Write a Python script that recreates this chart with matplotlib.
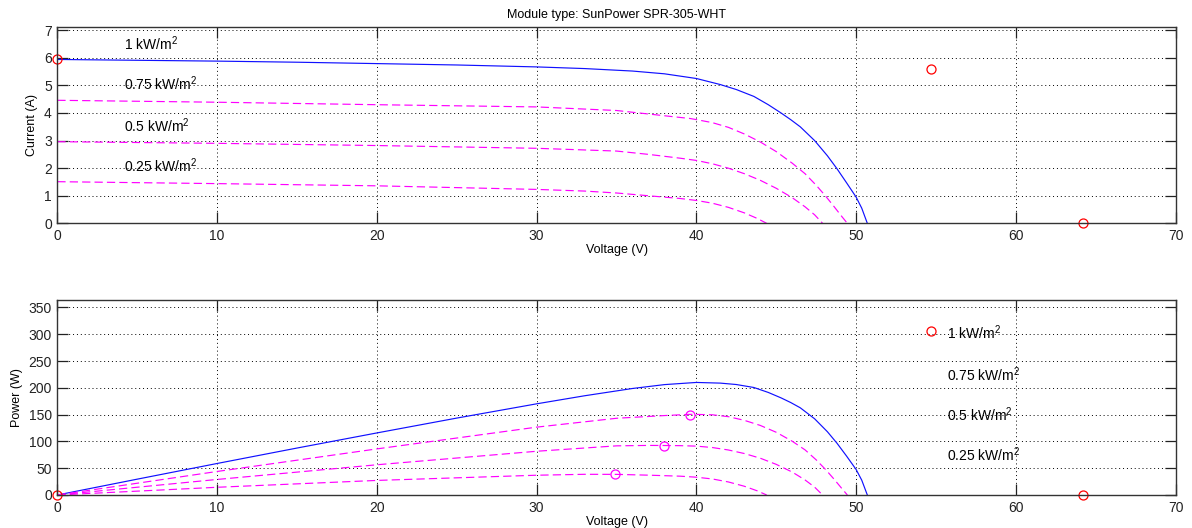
import numpy as np
import matplotlib
matplotlib.use("Agg")
import matplotlib.pyplot as plt

plt.rcParams['font.family'] = ['Liberation Sans', 'DejaVu Sans']
plt.rcParams['mathtext.fontset'] = 'custom'
plt.rcParams['mathtext.rm'] = 'Liberation Sans'
plt.rcParams['mathtext.it'] = 'Liberation Sans:italic'

# ---- data ----
title = "Module type: SunPower SPR-305-WHT"

v_1000 = [0, 5, 10, 15, 20, 25, 30, 33, 36, 38, 40, 41.5, 42.5, 43.6, 44.5, 45.3,
          45.9, 46.5, 47.4, 48.2, 48.8, 49.4, 50.0, 50.35, 50.7]
i_1000 = [5.94, 5.91, 5.88, 5.84, 5.79, 5.74, 5.67, 5.61, 5.52, 5.42, 5.25, 5.03,
          4.85, 4.6, 4.3, 4.0, 3.76, 3.5, 3.0, 2.45, 1.98, 1.47, 0.95, 0.55, 0.0]

v_750 = [0, 10, 20, 30, 35, 38, 39.6, 40, 41.0, 42.0, 43.0, 44.0, 45.0, 46.0,
         46.8, 47.5, 48.1, 48.6, 49.1, 49.45]
i_750 = [4.46, 4.39, 4.30, 4.22, 4.09, 3.9, 3.8, 3.76, 3.65, 3.48, 3.24, 2.95,
         2.6, 2.18, 1.8, 1.38, 0.98, 0.62, 0.25, 0.0]

v_500 = [0, 10, 20, 30, 35, 37, 38, 39, 40, 41, 42, 43, 44, 45, 46, 46.8, 47.4, 47.9]
i_500 = [2.96, 2.90, 2.82, 2.72, 2.62, 2.5, 2.43, 2.36, 2.28, 2.16, 2.0, 1.8,
         1.56, 1.27, 0.93, 0.6, 0.31, 0.0]

v_250 = [0, 10, 20, 30, 33, 35, 37, 39, 40, 41, 42, 43, 43.8, 44.4]
i_250 = [1.51, 1.44, 1.36, 1.23, 1.17, 1.10, 1.0, 0.9, 0.83, 0.73, 0.58, 0.38,
         0.18, 0.0]

# datasheet points (Isc, MPP, Voc)
ds_v = [0, 54.7, 64.2]
ds_i = [5.96, 5.58, 0.0]

# model maximum power points for reduced irradiance
mpp_v = [39.6, 38.0, 34.9]
mpp_p = [150, 92, 38.6]

irr_labels = [r'1 kW/m$^2$', r'0.75 kW/m$^2$', r'0.5 kW/m$^2$', r'0.25 kW/m$^2$']
lab_i_y = [6.5, 5.05, 3.55, 2.1]
lab_p_y = [303, 225, 150, 75]

xticks = [0, 10, 20, 30, 40, 50, 60, 70]
iticks = [0, 1, 2, 3, 4, 5, 6, 7]
pticks = [0, 50, 100, 150, 200, 250, 300, 350]

# ---- figure ----
fig = plt.figure(figsize=(11.92, 5.28), dpi=100)
ax1 = fig.add_axes([0.0481, 0.577, 0.9382, 0.371])
ax2 = fig.add_axes([0.0481, 0.0625, 0.9382, 0.3695])

BLUE = '#1010ff'
MAG = '#ff00ff'
dash = (0, (7, 3.5))

curves = [(v_750, i_750), (v_500, i_500), (v_250, i_250)]

# Current plot
ax1.plot(v_1000, i_1000, color=BLUE, lw=0.85)
for v, i in curves:
    ax1.plot(v, i, color=MAG, lw=0.85, linestyle=dash)
ax1.plot(ds_v, ds_i, 'o', mfc='none', mec='red', ms=6.5, mew=0.9, clip_on=False)

# Power plot
ax2.plot(v_1000, np.array(v_1000) * np.array(i_1000), color=BLUE, lw=0.85)
for v, i in curves:
    ax2.plot(v, np.array(v) * np.array(i), color=MAG, lw=0.85, linestyle=dash)
ax2.plot(ds_v, np.array(ds_v) * np.array(ds_i), 'o', mfc='none', mec='red',
         ms=6.5, mew=0.9, clip_on=False)
ax2.plot(mpp_v, mpp_p, 'o', mfc='none', mec=MAG, ms=6.5, mew=0.9)

for lab, y in zip(irr_labels, lab_i_y):
    ax1.text(4.2, y, lab, fontsize=10, ha='left', va='center')
for lab, y in zip(irr_labels, lab_p_y):
    ax2.text(55.7, y, lab, fontsize=10, ha='left', va='center')

for ax, yt, ylim in [(ax1, iticks, (0, 7.1)), (ax2, pticks, (0, 364))]:
    ax.set_xlim(0, 70)
    ax.set_ylim(*ylim)
    ax.set_xticks(xticks)
    ax.set_yticks(yt)
    ax.grid(True, color='black', linestyle=(0, (1, 3)), lw=0.7)
    ax.tick_params(direction='in', length=8, width=0.9, top=True, right=True,
                   labelsize=10, pad=4, colors='#222222')
    for s in ax.spines.values():
        s.set_color('#333333')
        s.set_linewidth(1.0)
    ax.set_xlabel('Voltage (V)', fontsize=9, labelpad=1)

ax1.set_ylabel('Current (A)', fontsize=9, labelpad=4)
ax2.set_ylabel('Power (W)', fontsize=9, labelpad=4)
ax1.set_title(title, fontsize=9, pad=7)

fig.savefig('out.png', dpi=100)
